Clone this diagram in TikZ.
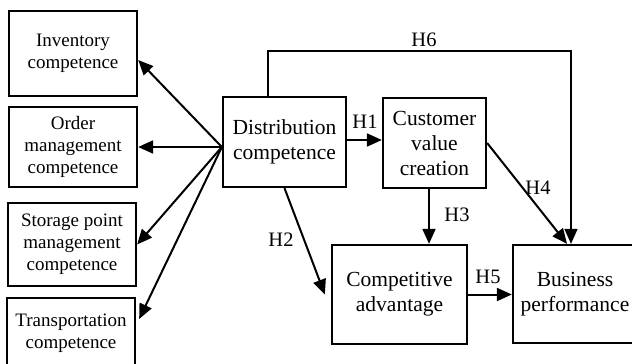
\documentclass[tikz,border=0pt]{standalone}
\usepackage{fontspec}
\setmainfont{Liberation Serif}
\usetikzlibrary{arrows.meta}
\begin{document}
\begin{tikzpicture}[x=1pt,y=-1pt,
  box/.style={draw,line width=2.3pt,inner sep=0pt,align=center},
  smallbox/.style={box,font=\fontsize{19}{22}\selectfont},
  bigbox/.style={box,font=\fontsize{21.5}{25}\selectfont},
  arr/.style={line width=2pt,-{Triangle[length=15pt,width=13pt]}},
  thinarr/.style={line width=1.5pt,-{Triangle[length=15pt,width=13pt]}},
  lab/.style={inner sep=0pt,font=\fontsize{20.5}{22}\selectfont}]
\useasboundingbox (0,0) rectangle (632,364);
% left boxes
\node[smallbox,minimum width=128pt,minimum height=85pt] (inv) at (73,53.5) {Inventory\\competence};
\node[smallbox,minimum width=128pt,minimum height=80pt] (ord) at (73,147) {Order\\management\\competence};
\node[smallbox,minimum width=128pt,minimum height=83pt] (sto) at (72,244.5) {Storage point\\management\\competence};
\node[smallbox,minimum width=128pt,minimum height=70pt] (tra) at (71,333) {Transportation\\competence};
% main boxes
\node[bigbox,minimum width=123pt,minimum height=90pt] (dis) at (284.5,142) {Distribution\\competence};
\node[bigbox,minimum width=103pt,minimum height=90pt] (cus) at (434.5,143) {Customer\\value\\creation};
\node[bigbox,minimum width=135pt,minimum height=99pt] (com) at (399.5,294.5) {Competitive\\advantage};
\node[bigbox,minimum width=124pt,minimum height=98pt] (bus) at (575,294) {Business\\performance};
% fan
\coordinate (fan) at ([yshift=-5pt]dis.west);
\draw[arr] (fan) -- ([yshift=-6.5pt]inv.east);
\draw[arr] (fan) -- (ord.east);
\draw[arr] (fan) -- (sto.east);
\draw[arr] (fan) -- ([yshift=14pt,xshift=3pt]tra.east);
% hypotheses
\draw[arr] ([yshift=2pt]dis.east) -- ([yshift=2pt]dis.east -| cus.west);
\draw[arr] (dis.south) -- ([xshift=-6pt]com.west);
\draw[arr] ([xshift=-5.5pt]cus.south) -- ([xshift=-5.5pt]cus.south |- com.north);
\draw[arr] (cus.east) -- ([xshift=-8pt]bus.north);
\draw[arr] (com.east) -- (com.east -| bus.west);
\coordinate (h6) at (571,51);
\draw[thinarr] ([xshift=-16.5pt]dis.north) |- (h6) -- (h6 |- bus.north);
% labels
\node[lab] (l6) at (424,40) {H6};
\node[lab] (l1) at (365,122) {H1};
\node[lab] (l2) at (281,240) {H2};
\node[lab] (l3) at (457,215) {H3};
\node[lab] (l4) at (538,188) {H4};
\node[lab] (l5) at (488,277) {H5};
\end{tikzpicture}
\end{document}
